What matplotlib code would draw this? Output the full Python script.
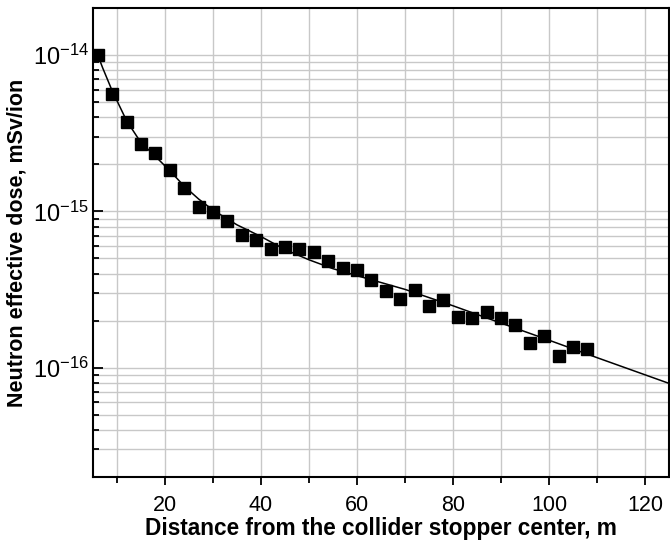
import matplotlib
matplotlib.use("Agg")
import matplotlib.pyplot as plt
from matplotlib.ticker import FixedLocator, FuncFormatter, NullFormatter
import numpy as np

plt.rcParams['font.family'] = ['Liberation Sans', 'DejaVu Sans']
plt.rcParams['mathtext.fontset'] = 'custom'
plt.rcParams['mathtext.rm'] = 'Liberation Sans'

# measured points
distance = [6, 9, 12, 15, 18, 21, 24, 27, 30, 33, 36, 39, 42, 45, 48, 51, 54,
            57, 60, 63, 66, 69, 72, 75, 78, 81, 84, 87, 90, 93, 96, 99, 102, 105, 108]
dose = [1.00e-14, 5.66e-15, 3.71e-15, 2.68e-15, 2.35e-15, 1.84e-15, 1.41e-15,
        1.06e-15, 9.96e-16, 8.67e-16, 7.05e-16, 6.55e-16, 5.71e-16, 5.91e-16,
        5.71e-16, 5.49e-16, 4.81e-16, 4.36e-16, 4.21e-16, 3.62e-16, 3.09e-16,
        2.77e-16, 3.12e-16, 2.48e-16, 2.73e-16, 2.12e-16, 2.09e-16, 2.28e-16,
        2.07e-16, 1.87e-16, 1.44e-16, 1.59e-16, 1.18e-16, 1.35e-16, 1.31e-16]

# fitted curve
fit_x = [6, 7, 8, 9, 10, 12, 15, 18, 21, 24, 27, 30, 35, 40, 45, 50, 55, 60,
         70, 80, 90, 100, 110, 125]
fit_y = [1.00e-14, 8.3e-15, 7.0e-15, 5.9e-15, 5.1e-15, 3.8e-15, 2.75e-15,
         2.25e-15, 1.82e-15, 1.45e-15, 1.20e-15, 1.02e-15, 8.2e-16, 6.9e-16,
         5.7e-16, 4.9e-16, 4.3e-16, 3.88e-16, 3.17e-16, 2.49e-16, 1.93e-16,
         1.50e-16, 1.16e-16, 7.94e-17]

x_major = [20, 40, 60, 80, 100, 120]
x_minor = [10, 30, 50, 70, 90, 110]
y_major = [1e-16, 1e-15, 1e-14]
y_minor = [m * 10.0 ** e for e in (-17, -16, -15) for m in range(2, 10)]

fig = plt.figure(figsize=(6.7, 5.4), dpi=100)
ax = fig.add_axes([0.1388, 0.1167, 0.8597, 0.8685])

ax.set_yscale('log')
ax.plot(fit_x, fit_y, '-', color='black', lw=1.1, zorder=3)
ax.plot(distance, dose, 's', color='black', ms=9, zorder=4)

ax.set_xlim(5, 125)
ax.set_ylim(2e-17, 2e-14)

ax.xaxis.set_major_locator(FixedLocator(x_major))
ax.xaxis.set_minor_locator(FixedLocator(x_minor))
ax.yaxis.set_major_locator(FixedLocator(y_major))
ax.yaxis.set_minor_locator(FixedLocator(y_minor))
ax.yaxis.set_minor_formatter(NullFormatter())
ax.yaxis.set_major_formatter(FuncFormatter(
    lambda v, p: r'$\mathregular{10^{%d}}$' % int(round(np.log10(v)))))

ax.grid(True, which='both', color='#c8c8c8', lw=1.0, zorder=0)
ax.set_axisbelow(True)

ax.tick_params(axis='x', which='major', direction='out', length=6, width=1.3,
               labelsize=15.5, pad=7)
ax.tick_params(axis='x', which='minor', direction='out', length=4, width=1.3)
ax.tick_params(axis='y', which='major', direction='in', length=7, width=1.3,
               labelsize=17, pad=3)
ax.tick_params(axis='y', which='minor', direction='in', length=4, width=1.3)

for s in ax.spines.values():
    s.set_linewidth(1.5)

ax.set_xlabel('Distance from the collider stopper center, m', fontsize=16.3,
              fontweight='bold', labelpad=1)
ax.set_ylabel('Neutron effective dose, mSv/ion', fontsize=15.5,
              fontweight='bold', labelpad=4)

fig.savefig('out.png', dpi=100)
